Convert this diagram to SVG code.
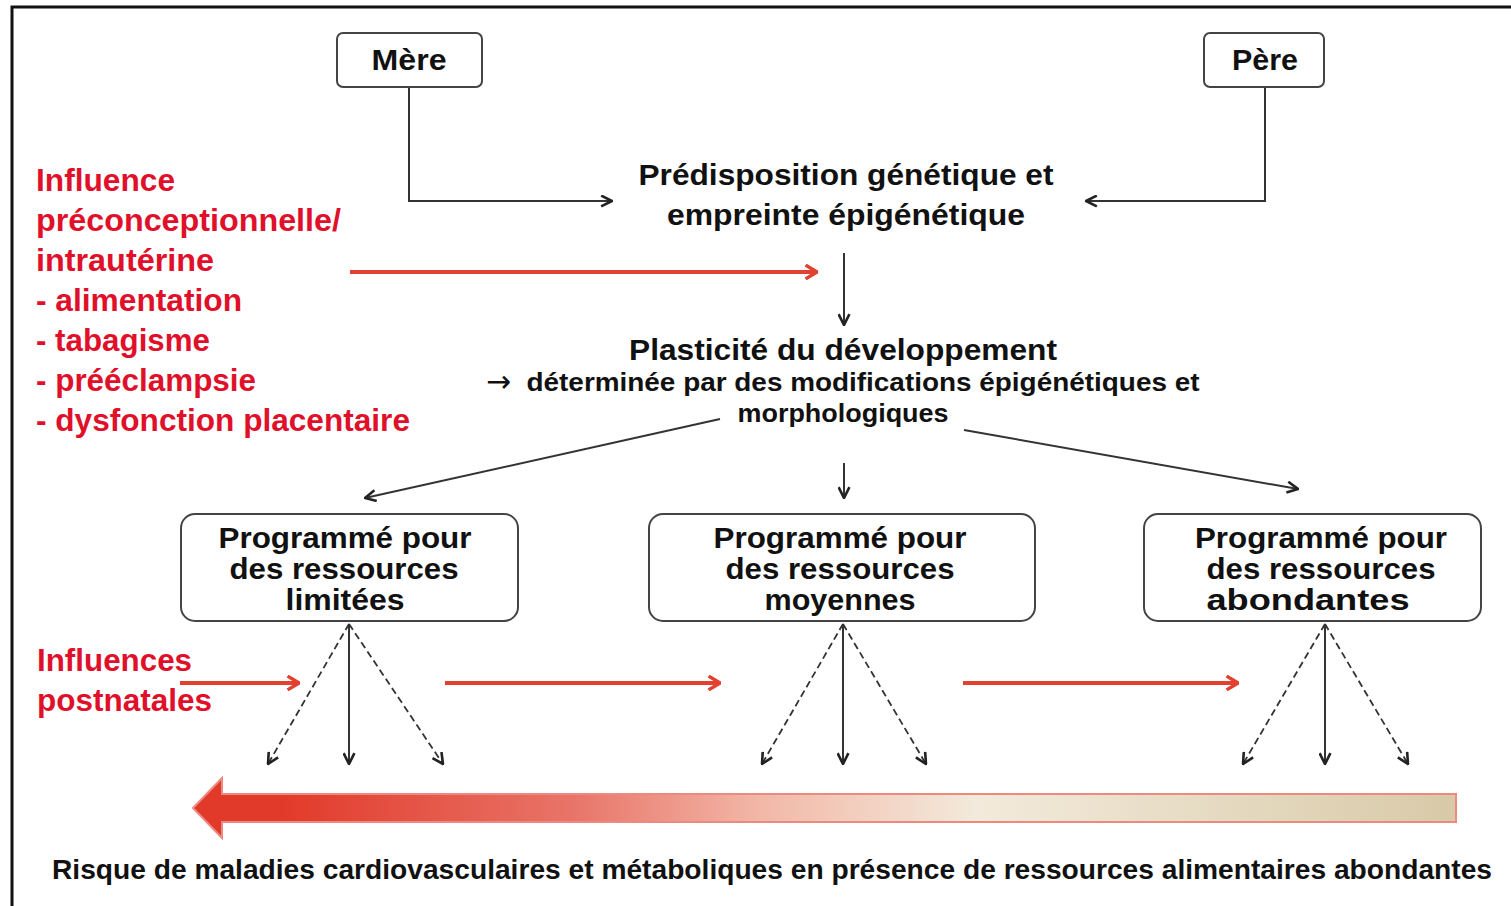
<svg xmlns="http://www.w3.org/2000/svg" width="1511" height="906" viewBox="0 0 1511 906">
<style>
.box{fill:#fff;stroke:#444;stroke-width:2}
.t{font-family:"Liberation Sans",Arial,sans-serif;font-weight:bold;fill:#111;text-anchor:middle}
.r{font-family:"Liberation Sans",Arial,sans-serif;font-weight:bold;fill:#e0102a}
.ln{fill:none;stroke:#333;stroke-width:2;marker-end:url(#ah)}
.dl{fill:none;stroke:#333;stroke-width:1.8;stroke-dasharray:7 4;marker-end:url(#ah)}
.red{fill:none;stroke:#e2412f;stroke-width:4;marker-end:url(#rh)}
</style>
<defs>
<marker id="ah" viewBox="0 0 12 12" refX="11" refY="6" markerWidth="13" markerHeight="13" markerUnits="userSpaceOnUse" orient="auto">
<path d="M1,1 L11,6 L1,11" fill="none" stroke="#222" stroke-width="2.4"/>
</marker>
<marker id="rh" viewBox="0 0 12 14" refX="11" refY="7" markerWidth="14" markerHeight="16" markerUnits="userSpaceOnUse" orient="auto">
<path d="M1,1 L11,7 L1,13" fill="none" stroke="#e2412f" stroke-width="3"/>
</marker>
<linearGradient id="grad" x1="193" y1="0" x2="1456" y2="0" gradientUnits="userSpaceOnUse">
<stop offset="0" stop-color="#e23a2a"/>
<stop offset="0.07" stop-color="#e23a2a"/>
<stop offset="0.3" stop-color="#e87468"/>
<stop offset="0.45" stop-color="#f2b8a8"/>
<stop offset="0.62" stop-color="#f3eadb"/>
<stop offset="1" stop-color="#d8caa8"/>
</linearGradient>
</defs>
<rect width="1511" height="906" fill="#fff"/>
<path d="M12,906 V7 H1511" fill="none" stroke="#111" stroke-width="3"/>

<g id="connectors">
<path class="ln" d="M409,87 V201 H612"/>
<path class="ln" d="M1265,87 V201 H1086"/>
<path class="ln" d="M844,253 V325"/>
<path class="ln" d="M720,419 L365,498"/>
<path class="ln" d="M964,430 L1298,489"/>
<path class="ln" d="M844,463 V498"/>
<path class="red" d="M350,272 H817"/>
<path class="red" d="M180,683 H299"/>
<path class="red" d="M445,683 H720"/>
<path class="red" d="M963,683 H1238"/>
<path class="ln" d="M349,624 V764"/>
<path class="dl" d="M349,624 L268,764"/>
<path class="dl" d="M349,624 L443,764"/>
<path class="ln" d="M843,624 V764"/>
<path class="dl" d="M843,624 L762,764"/>
<path class="dl" d="M843,624 L926,764"/>
<path class="ln" d="M1325,624 V764"/>
<path class="dl" d="M1325,624 L1243,764"/>
<path class="dl" d="M1325,624 L1408,764"/>
</g>

<g id="mere">
<rect class="box" x="337" y="33" width="145" height="54" rx="6"/>
<text class="t" x="409" y="70" font-size="29" textLength="75" lengthAdjust="spacingAndGlyphs">Mère</text>
</g>
<g id="pere">
<rect class="box" x="1204" y="33" width="120" height="54" rx="6"/>
<text class="t" x="1265" y="70" font-size="29" textLength="66" lengthAdjust="spacingAndGlyphs">Père</text>
</g>
<g id="predisposition">
<text class="t" x="846" y="185" font-size="30" textLength="415" lengthAdjust="spacingAndGlyphs">Prédisposition génétique et</text>
<text class="t" x="846" y="225" font-size="30" textLength="358" lengthAdjust="spacingAndGlyphs">empreinte épigénétique</text>
</g>
<g id="plasticite">
<text class="t" x="843" y="360" font-size="30" textLength="428" lengthAdjust="spacingAndGlyphs">Plasticité du développement</text>
<text x="486" y="392" font-family="'DejaVu Sans',sans-serif" font-size="31" fill="#111" textLength="25" lengthAdjust="spacingAndGlyphs">→</text>
<text class="t" x="863" y="391" font-size="25" textLength="673" lengthAdjust="spacingAndGlyphs">déterminée par des modifications épigénétiques et</text>
<text class="t" x="843" y="422" font-size="25" textLength="211" lengthAdjust="spacingAndGlyphs">morphologiques</text>
</g>
<g id="limitees">
<rect class="box" x="181" y="514" width="337" height="107" rx="14"/>
<text class="t" x="345" y="548" font-size="30" textLength="253" lengthAdjust="spacingAndGlyphs">Programmé pour</text>
<text class="t" x="344" y="579" font-size="30" textLength="229" lengthAdjust="spacingAndGlyphs">des ressources</text>
<text class="t" x="345" y="610" font-size="30" textLength="119" lengthAdjust="spacingAndGlyphs">limitées</text>
</g>
<g id="moyennes">
<rect class="box" x="649" y="514" width="386" height="107" rx="14"/>
<text class="t" x="840" y="548" font-size="30" textLength="253" lengthAdjust="spacingAndGlyphs">Programmé pour</text>
<text class="t" x="840" y="579" font-size="30" textLength="229" lengthAdjust="spacingAndGlyphs">des ressources</text>
<text class="t" x="840" y="610" font-size="30" textLength="151" lengthAdjust="spacingAndGlyphs">moyennes</text>
</g>
<g id="abondantes">
<rect class="box" x="1144" y="514" width="337" height="107" rx="14"/>
<text class="t" x="1321" y="548" font-size="30" textLength="252" lengthAdjust="spacingAndGlyphs">Programmé pour</text>
<text class="t" x="1321" y="579" font-size="30" textLength="229" lengthAdjust="spacingAndGlyphs">des ressources</text>
<text class="t" x="1308" y="610" font-size="30" textLength="203" lengthAdjust="spacingAndGlyphs">abondantes</text>
</g>
<g id="influence-pre">
<text class="r" x="36" y="191" font-size="31" textLength="139" lengthAdjust="spacingAndGlyphs">Influence</text>
<text class="r" x="36" y="231" font-size="31" textLength="305" lengthAdjust="spacingAndGlyphs">préconceptionnelle/</text>
<text class="r" x="36" y="271" font-size="31" textLength="178" lengthAdjust="spacingAndGlyphs">intrautérine</text>
<text class="r" x="36" y="311" font-size="31" textLength="206" lengthAdjust="spacingAndGlyphs">- alimentation</text>
<text class="r" x="36" y="351" font-size="31" textLength="174" lengthAdjust="spacingAndGlyphs">- tabagisme</text>
<text class="r" x="36" y="391" font-size="31" textLength="220" lengthAdjust="spacingAndGlyphs">- prééclampsie</text>
<text class="r" x="36" y="431" font-size="31" textLength="374" lengthAdjust="spacingAndGlyphs">- dysfonction placentaire</text>
</g>
<g id="influence-post">
<text class="r" x="37" y="671" font-size="31" textLength="155" lengthAdjust="spacingAndGlyphs">Influences</text>
<text class="r" x="37" y="711" font-size="31" textLength="175" lengthAdjust="spacingAndGlyphs">postnatales</text>
</g>
<g id="risque">
<path d="M193,808 L222,778 V794 H1456 V822 H222 V838 Z" fill="url(#grad)" stroke="#ec8a80" stroke-width="2"/>
<text class="t" x="772" y="879" font-size="28" textLength="1440" lengthAdjust="spacingAndGlyphs">Risque de maladies cardiovasculaires et métaboliques en présence de ressources alimentaires abondantes</text>
</g>
</svg>
